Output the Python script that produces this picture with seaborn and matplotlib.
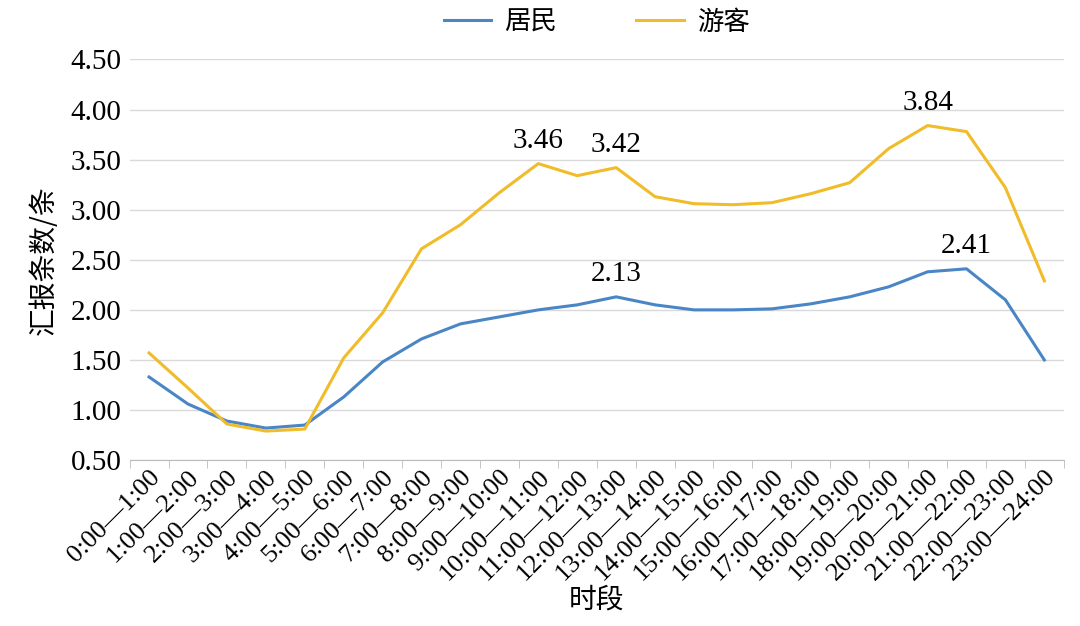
import matplotlib
matplotlib.use("Agg")
import matplotlib.pyplot as plt
import seaborn as sns
import pandas as pd
import numpy as np

periods = [f"{h}:00—{h+1}:00" for h in range(24)]
residents = [1.33,1.06,0.89,0.82,0.85,1.13,1.48,1.71,1.86,1.93,2.00,2.05,2.13,2.05,2.00,2.00,2.01,2.06,2.13,2.23,2.38,2.41,2.10,1.50]
tourists = [1.57,1.22,0.86,0.79,0.81,1.52,1.97,2.61,2.85,3.17,3.46,3.34,3.42,3.13,3.06,3.05,3.07,3.16,3.27,3.61,3.84,3.78,3.22,2.29]
yticks = [0.5,1.0,1.5,2.0,2.5,3.0,3.5,4.0,4.5]

df = pd.DataFrame({"x": list(range(24))*2, "y": residents+tourists,
                   "s": ["居民"]*24 + ["游客"]*24})

fig = plt.figure(figsize=(10.8, 6.26), dpi=100)
ax = fig.add_axes([0.12, 0.265, 0.865, 0.64])
sns.lineplot(data=df, x="x", y="y", hue="s", palette=["#4a86c5", "#f0bc2a"], linewidth=2.2, ax=ax)
ax.set_xlim(-0.5, 23.5)
ax.set_ylim(0.5, 4.5)
ax.set_yticks(yticks)
ax.set_yticklabels([f"{v:.2f}" for v in yticks], fontfamily="Liberation Serif", fontsize=21)
ax.set_xticks(range(24))
ax.set_xticklabels(periods, rotation=45, ha="right", rotation_mode="anchor",
                   fontfamily="Liberation Serif", fontsize=19)
ax.tick_params(axis="x", which="major", length=0, pad=4)
ax.set_xticks(np.arange(-0.5, 24, 1), minor=True)
ax.tick_params(axis="x", which="minor", length=6, color="#bbbbbb")
ax.tick_params(axis="y", length=0, pad=6)
ax.grid(axis="y", color="#d9d9d9", linewidth=1)
ax.set_axisbelow(True)
for s in ["top", "right", "left"]:
    ax.spines[s].set_visible(False)
ax.spines["bottom"].set_color("#bbbbbb")
ax.set_xlabel("时段", fontfamily="Noto Sans CJK SC", fontsize=20, labelpad=0)
ax.set_ylabel("汇报条数/条", fontfamily="Noto Sans CJK SC", fontsize=20, labelpad=8)
for i, arr in [(10, tourists), (12, tourists), (20, tourists), (12, residents), (21, residents)]:
    ax.text(i, arr[i] + 0.1, f"{arr[i]:.2f}", ha="center", va="bottom",
            fontfamily="Liberation Serif", fontsize=21)
leg = ax.legend(loc="lower center", bbox_to_anchor=(0.5, 1.0), ncol=2, frameon=False,
                prop={"family": "Noto Sans CJK SC", "size": 19}, handlelength=1.8,
                handletextpad=0.5, columnspacing=3)
fig.savefig("out.png", dpi=100)
